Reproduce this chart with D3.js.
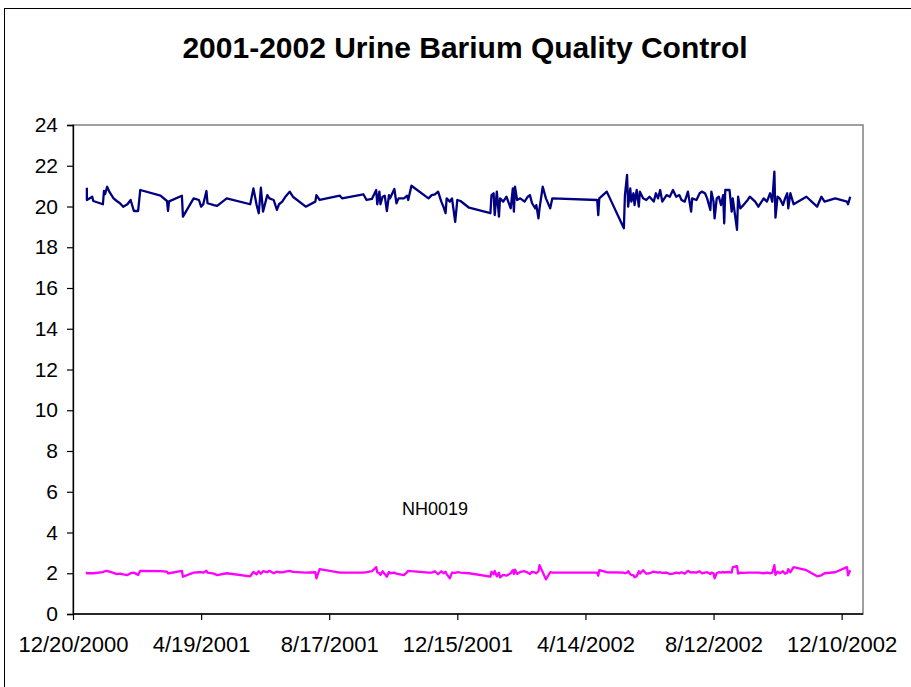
<!DOCTYPE html>
<html>
<head>
<meta charset="utf-8">
<script src="https://cdn.jsdelivr.net/npm/d3@7"></script>
<style>
  body { margin: 0; background: #fff; }
  text { font-family: "Liberation Sans", Arial, sans-serif; }
</style>
</head>
<body>
<div id="container"></div>
<script>
// days after 12/20/2000 on which the QC samples were run
const sampleDays = [
  13, 13, 18, 19, 28, 29, 30, 32, 34, 38, 41, 44, 47, 51, 54, 57, 61, 63, 82, 88,
  89, 90, 102, 103, 113, 118, 120, 122, 125, 126, 132, 135, 144, 166, 169, 172, 174, 176, 178, 182,
  184, 188, 191, 193, 196, 199, 203, 206, 218, 227, 228, 231, 250, 252, 272, 275, 280, 284, 285, 287,
  288, 290, 292, 294, 296, 297, 301, 303, 305, 310, 313, 314, 317, 333, 336, 339, 342, 345, 347, 349,
  350, 353, 355, 358, 360, 363, 371, 391, 392, 394, 395, 397, 399, 400, 403, 406, 410, 412, 413, 414,
  416, 419, 423, 426, 428, 430, 433, 434, 436, 437, 440, 443, 447, 449, 491, 492, 493, 500, 516, 517,
  519, 520, 522, 523, 525, 526, 528, 530, 531, 534, 537, 540, 544, 546, 548, 550, 552, 556, 559, 562,
  565, 568, 570, 573, 576, 579, 580, 584, 587, 589, 592, 594, 597, 598, 600, 601, 603, 605, 607, 609,
  610, 611, 615, 617, 618, 622, 623, 625, 628, 632, 634, 639, 642, 647, 650, 653, 655, 657, 658, 660,
  662, 665, 667, 669, 670, 672, 675, 687, 697, 701, 704, 714, 725, 726, 728
];

// high control (~20)
const highValues = [
  20.92, 20.32, 20.48, 20.27, 20.11, 20.76, 20.60, 20.97, 20.73, 20.40, 20.27, 20.16, 19.99, 20.11, 20.32, 19.78, 19.78, 20.81, 20.53, 20.27,
  19.78, 20.25, 20.53, 19.50, 20.40, 20.32, 19.99, 20.11, 20.76, 20.16, 20.07, 20.03, 20.40, 20.11, 20.89, 20.07, 19.67, 20.92, 19.75, 20.56,
  20.40, 20.32, 19.83, 20.11, 20.24, 20.48, 20.73, 20.48, 19.99, 20.24, 20.56, 20.32, 20.53, 20.40, 20.60, 20.32, 20.37, 20.81, 20.11, 20.73,
  20.11, 20.48, 20.53, 19.78, 20.56, 20.40, 20.86, 20.16, 20.40, 20.40, 20.53, 20.32, 21.02, 20.40, 20.56, 20.60, 20.73, 20.24, 19.99, 19.67,
  20.40, 20.24, 20.40, 19.25, 20.32, 20.27, 19.94, 19.67, 20.56, 20.65, 19.58, 20.73, 19.50, 20.40, 20.24, 20.48, 19.91, 20.89, 19.75, 20.97,
  20.32, 20.40, 20.24, 20.48, 20.56, 20.16, 19.91, 20.07, 19.42, 19.91, 20.97, 20.40, 19.91, 20.40, 20.32, 19.58, 20.40, 20.73, 18.93, 20.56,
  21.55, 19.99, 20.89, 20.24, 20.65, 20.07, 20.81, 19.99, 20.73, 20.40, 20.32, 20.48, 20.24, 20.65, 20.40, 20.81, 20.24, 20.56, 20.48, 20.81,
  20.48, 20.56, 20.32, 20.24, 20.73, 19.75, 20.40, 20.32, 20.65, 20.73, 20.65, 20.40, 19.83, 20.73, 20.24, 19.42, 20.40, 20.48, 20.07, 20.56,
  19.17, 20.81, 20.81, 19.75, 20.40, 18.85, 20.48, 19.91, 20.07, 20.32, 20.48, 20.24, 19.99, 20.40, 20.24, 20.65, 20.24, 21.71, 19.45, 20.48,
  20.40, 20.07, 20.40, 20.65, 19.91, 20.65, 20.11, 20.48, 19.99, 20.48, 20.24, 20.40, 20.24, 20.11, 20.48
];

// low control NH0019 (~2)
const lowValues = [
  2.07, 2.00, 2.00, 2.00, 2.05, 2.08, 2.10, 2.12, 2.08, 2.02, 1.96, 1.98, 1.94, 1.91, 2.00, 2.03, 1.92, 2.12, 2.10, 2.08,
  2.00, 2.00, 2.12, 1.83, 2.03, 2.05, 2.05, 2.03, 2.12, 2.03, 1.98, 1.91, 2.00, 1.85, 2.06, 1.95, 2.10, 1.98, 2.10, 2.05,
  2.12, 2.00, 2.08, 2.05, 2.04, 2.08, 2.12, 2.07, 2.03, 2.05, 1.75, 2.20, 2.03, 2.03, 2.03, 2.05, 2.10, 2.30, 2.05, 2.00,
  1.92, 2.10, 1.96, 1.83, 2.07, 2.00, 2.03, 1.98, 1.96, 1.91, 2.05, 2.12, 2.10, 2.03, 2.03, 2.10, 1.95, 2.10, 2.00, 2.07,
  1.96, 1.75, 2.03, 2.02, 2.05, 2.03, 2.00, 1.83, 2.08, 1.95, 2.12, 1.85, 2.03, 1.80, 1.92, 1.88, 2.00, 2.15, 1.96, 2.18,
  1.96, 2.07, 2.10, 2.03, 1.96, 2.07, 2.03, 2.00, 2.10, 2.40, 2.05, 1.70, 2.05, 2.03, 2.03, 1.88, 2.15, 2.05, 2.03, 2.00,
  2.03, 2.10, 1.96, 1.92, 1.90, 1.80, 1.85, 2.10, 1.98, 2.15, 1.98, 2.00, 2.08, 2.05, 2.03, 2.05, 2.02, 2.03, 1.96, 1.98,
  2.03, 2.00, 2.05, 1.98, 2.12, 2.03, 2.05, 2.03, 2.10, 2.00, 2.03, 2.05, 1.96, 2.03, 2.00, 1.75, 2.00, 2.05, 2.03, 2.07,
  2.03, 2.05, 2.05, 2.03, 2.30, 2.35, 1.98, 2.03, 2.02, 2.03, 2.03, 2.03, 2.03, 2.00, 2.03, 2.00, 2.03, 2.40, 1.92, 2.08,
  2.00, 2.10, 1.98, 2.03, 2.20, 2.05, 2.30, 2.15, 1.85, 1.90, 2.00, 2.05, 2.30, 1.90, 2.15
];

const xTickLabels = ['12/20/2000', '4/19/2001', '8/17/2001', '12/15/2001', '4/14/2002', '8/12/2002', '12/10/2002'];
const yTicks = [0, 2, 4, 6, 8, 10, 12, 14, 16, 18, 20, 22, 24];

const width = 911, height = 687;
const margin = { top: 125, right: 48, bottom: 73, left: 73 };

const svg = d3.select('#container').append('svg')
  .attr('width', width)
  .attr('height', height);

// chart frame
svg.append('rect')
  .attr('x', 4.5).attr('y', 8.5)
  .attr('width', 920).attr('height', 700)
  .attr('fill', '#fff')
  .attr('stroke', '#000')
  .attr('stroke-width', 1);

const origin = new Date(Date.UTC(2000, 11, 20));
const parseTick = d3.utcParse('%m/%d/%Y');

const x = d3.scaleUtc()
  .domain([origin, new Date(Date.UTC(2002, 11, 30))])
  .range([margin.left, width - margin.right]);

const y = d3.scaleLinear()
  .domain([0, 24])
  .range([height - margin.bottom, margin.top]);

// plot area border
svg.append('rect')
  .attr('x', margin.left).attr('y', margin.top)
  .attr('width', width - margin.left - margin.right)
  .attr('height', y(0) - margin.top)
  .attr('fill', 'none')
  .attr('stroke', '#808080')
  .attr('stroke-width', 1.5);

const rows = sampleDays.map((d, i) => ({
  date: d3.utcDay.offset(origin, d),
  high: highValues[i],
  low: lowValues[i]
}));

const yAxis = d3.axisLeft(y)
  .tickValues(yTicks)
  .tickSize(6)
  .tickPadding(9);

const gy = svg.append('g')
  .attr('transform', `translate(${margin.left},0)`)
  .call(yAxis);

const xAxis = d3.axisBottom(x)
  .tickValues(xTickLabels.map(parseTick))
  .tickFormat(d3.utcFormat('%-m/%-d/%Y'))
  .tickSize(6)
  .tickPadding(16);

const gx = svg.append('g')
  .attr('transform', `translate(0,${y(0)})`)
  .call(xAxis);

[gx, gy].forEach(g => {
  g.select('.domain').attr('stroke', '#000').attr('stroke-width', 1.3);
  g.selectAll('.tick line').attr('stroke', '#000').attr('stroke-width', 1.2);
  g.selectAll('.tick text')
    .attr('fill', '#000')
    .style('font-size', '21px')
    .style('font-family', '"Liberation Sans", Arial, sans-serif');
});
gx.selectAll('.tick text').style('font-size', '22px');
// x axis domain spans plot width only
gx.select('.domain').attr('d', `M${margin.left},0H${width - margin.right}`);

const line = key => d3.line()
  .x(d => x(d.date))
  .y(d => y(d[key]));

svg.append('path')
  .datum(rows)
  .attr('fill', 'none')
  .attr('stroke', '#000080')
  .attr('stroke-width', 2.3)
  .attr('stroke-linejoin', 'round')
  .attr('d', line('high'));

svg.append('path')
  .datum(rows)
  .attr('fill', 'none')
  .attr('stroke', '#ff00ff')
  .attr('stroke-width', 2.3)
  .attr('stroke-linejoin', 'round')
  .attr('d', line('low'));

svg.append('text')
  .attr('x', 465).attr('y', 58)
  .attr('text-anchor', 'middle')
  .style('font-size', '30px')
  .style('font-weight', 'bold')
  .text('2001-2002 Urine Barium Quality Control');

svg.append('text')
  .attr('x', 435).attr('y', 515)
  .attr('text-anchor', 'middle')
  .style('font-size', '18px')
  .text('NH0019');
</script>
</body>
</html>
